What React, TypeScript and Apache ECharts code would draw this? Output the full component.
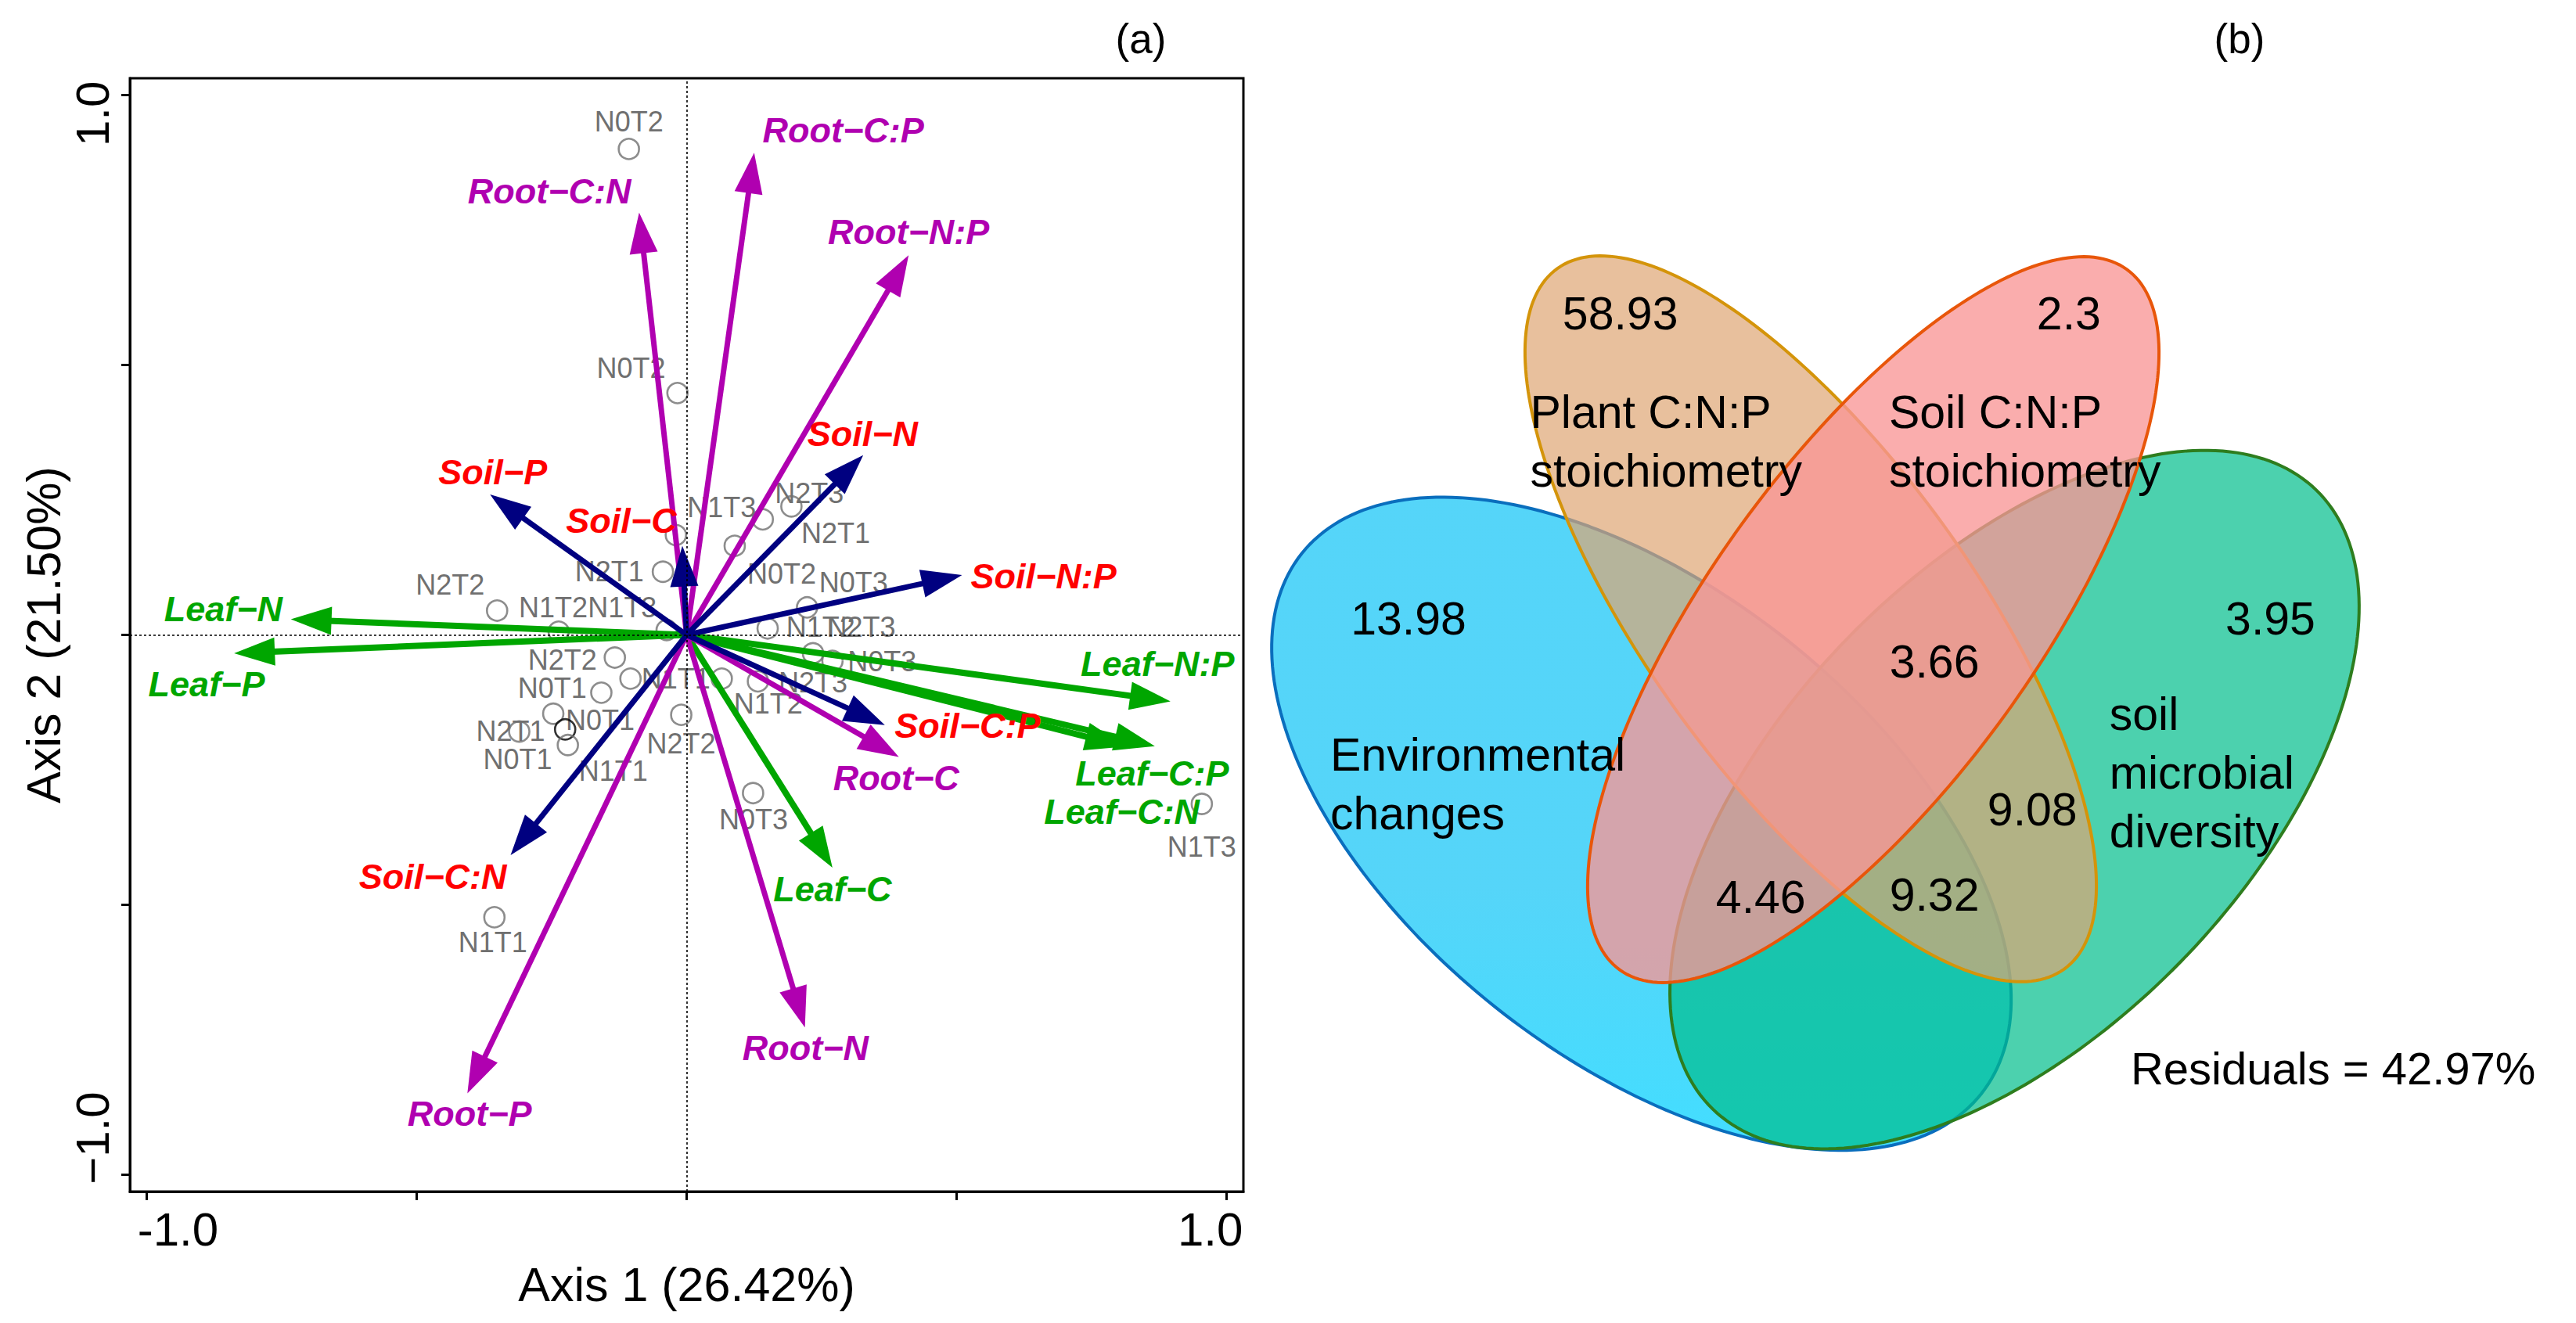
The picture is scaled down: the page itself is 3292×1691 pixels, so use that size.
import React, { useEffect, useRef } from "react";
import * as echarts from "echarts";

// ---------------- Panel (a): ordination biplot ----------------
const arrowNames = [
  "Leaf−N", "Leaf−P", "Leaf−C", "Leaf−N:P", "Leaf−C:P", "Leaf−C:N",
  "Root−C:N", "Root−C:P", "Root−N:P", "Root−C", "Root−N", "Root−P",
  "Soil−P", "Soil−C", "Soil−N", "Soil−N:P", "Soil−C:P", "Soil−C:N",
];
const arrowGroups = [
  "leaf", "leaf", "leaf", "leaf", "leaf", "leaf",
  "root", "root", "root", "root", "root", "root",
  "soil", "soil", "soil", "soil", "soil", "soil",
];
const arrowX = [-0.733, -0.838, 0.27, 0.896, 0.867, 0.813, -0.088, 0.125, 0.411, 0.393, 0.219, -0.406, -0.364, -0.008, 0.327, 0.51, 0.367, -0.326];
const arrowY = [0.029, -0.034, -0.431, -0.123, -0.206, -0.207, 0.782, 0.893, 0.703, -0.226, -0.727, -0.849, 0.26, 0.165, 0.333, 0.111, -0.167, -0.408];
const arrowLabelX = [-0.858, -0.889, 0.27, 0.872, 0.862, 0.806, -0.254, 0.29, 0.411, 0.388, 0.22, -0.402, -0.359, -0.121, 0.326, 0.661, 0.52, -0.47];
const arrowLabelY = [0.048, -0.091, -0.471, -0.053, -0.257, -0.327, 0.821, 0.935, 0.746, -0.265, -0.765, -0.887, 0.301, 0.212, 0.372, 0.109, -0.168, -0.448];

const sampleNames = [
  "N0T2", "N0T2", "N1T3", "N2T1", "N0T2", "N2T1", "N2T3", "N0T3", "N1T2",
  "N2T3", "N0T3", "N2T3", "N1T2", "N1T1", "N2T2", "N1T3", "N1T2", "N2T2",
  "N0T1", "N0T1", "N1T1", "N0T1", "N2T1", "N2T2", "N0T3", "N1T3", "N1T1",
];
const sampleX = [-0.107, -0.017, -0.02, -0.044, 0.089, 0.141, 0.194, 0.223, 0.15, 0.234, 0.27, 0.132, 0.065, -0.104, -0.133, -0.037, -0.237, -0.351, -0.158, -0.247, -0.225, -0.22, -0.31, -0.01, 0.123, 0.954, -0.356];
const sampleY = [0.9, 0.448, 0.185, 0.117, 0.165, 0.214, 0.238, 0.051, 0.012, -0.034, -0.048, -0.086, -0.081, -0.081, -0.042, 0.009, 0.006, 0.045, -0.107, -0.146, -0.175, -0.204, -0.179, -0.148, -0.293, -0.313, -0.523];
const sampleLabelX = [-0.107, -0.103, 0.065, -0.143, 0.176, 0.276, 0.227, 0.309, 0.248, 0.323, 0.362, 0.234, 0.151, -0.02, -0.23, -0.119, -0.247, -0.438, -0.249, -0.16, -0.136, -0.313, -0.326, -0.01, 0.124, 0.954, -0.359];
const sampleLabelY = [0.951, 0.494, 0.236, 0.117, 0.113, 0.189, 0.262, 0.097, 0.014, 0.014, -0.049, -0.089, -0.128, -0.081, -0.047, 0.05, 0.05, 0.093, -0.098, -0.158, -0.252, -0.23, -0.178, -0.201, -0.342, -0.392, -0.569];
const blackSampleIndex = 20;

const axisTickValues = [-1, -0.5, 0, 0.5, 1];
const axisLabelValues = [-1, 1];
const axis1Title = "Axis 1 (26.42%)";
const axis2Title = "Axis 2 (21.50%)";

// ---------------- Panel (b): variation partitioning Venn ----------------
const vennSetNames = ["Environmental\nchanges", "soil\nmicrobial\ndiversity", "Plant C:N:P\nstoichiometry", "Soil C:N:P\nstoichiometry"];
const vennCenterX = [0.3888, 0.7613, 0.5578, 0.6203];
const vennCenterY = [0.3962, 0.4203, 0.6008, 0.6];
const vennSemiMajor = [0.4334, 0.4316, 0.4317, 0.4317];
const vennSemiMinor = [0.2341, 0.2318, 0.1623, 0.1623];
const vennAngle = [-38.5, 45.7, -54.1, 54.1];
const vennSetLabelX = [0.0781, 0.8561, 0.2777, 0.6359];
const vennSetLabelY = [0.4352, 0.4465, 0.7777, 0.7777];

const vennValues = ["13.98", "3.95", "58.93", "2.3", "3.66", "9.08", "4.46", "9.32"];
const vennValueX = [0.1563, 1.0168, 0.3677, 0.8155, 0.6813, 0.7791, 0.508, 0.6813];
const vennValueY = [0.6009, 0.6009, 0.9052, 0.9052, 0.5582, 0.4105, 0.3228, 0.3252];
const residualLabel = "Residuals = 42.97%";
const residualX = 0.8773;
const residualY = 0.1523;

const FONT = '"Liberation Sans", Arial, Helvetica, sans-serif';
const lineColors: Record<string, string> = { leaf: "#00A600", root: "#B000B0", soil: "#000080" };
const labelColors: Record<string, string> = { leaf: "#00A600", root: "#B000B0", soil: "#FF0000" };
const vennStroke = ["#0A6EBD", "#2E7D1E", "#D4940A", "#E8560A"];

function vennFill(i: number): any {
  if (i === 0) {
    return new echarts.graphic.LinearGradient(0, 0, 0, 1, [
      { offset: 0, color: "rgba(12,195,246,0.7)" },
      { offset: 0.6, color: "rgba(12,195,246,0.7)" },
      { offset: 1, color: "rgba(0,210,255,0.74)" },
    ]);
  }
  return ["", "rgba(0,190,140,0.7)", "rgba(222,165,116,0.7)", "rgba(249,150,150,0.78)"][i];
}

export default function App() {
  const ref = useRef<HTMLDivElement>(null);

  useEffect(() => {
    if (!ref.current) return;
    const chart = echarts.init(ref.current, null, { renderer: "svg" });

    const tickLabelRichX = {
      neg: { fontSize: 60, fontFamily: FONT, color: "#000", padding: [0, 0, 0, 80] },
      pos: { fontSize: 60, fontFamily: FONT, color: "#000", padding: [0, 42, 0, 0] },
    };
    const tickLabelRichY = {
      neg: { fontSize: 60, fontFamily: FONT, color: "#000", padding: [0, 0, 0, 94] },
      pos: { fontSize: 60, fontFamily: FONT, color: "#000", padding: [0, 48, 0, 0] },
    };

    const option: any = {
      animation: false,
      backgroundColor: "#ffffff",
      grid: [
        { left: 166, top: 100, width: 1423, height: 1423, show: true, borderColor: "#000", borderWidth: 3, backgroundColor: "transparent" },
        { left: 1600, top: 280, width: 1600, height: 1280, show: false },
      ],
      xAxis: [
        {
          type: "value", gridIndex: 0, min: -1.031, max: 1.031, position: "bottom",
          axisLine: { show: true, onZero: false, lineStyle: { color: "#000", width: 3 } },
          axisTick: { show: true, customValues: axisTickValues, length: 11, inside: false, lineStyle: { color: "#000", width: 3 } },
          axisLabel: {
            show: true, customValues: axisLabelValues, margin: 18,
            formatter: (v: number) => (v < 0 ? "{neg|-" + Math.abs(v).toFixed(1) + "}" : "{pos|" + v.toFixed(1) + "}"),
            rich: tickLabelRichX,
          },
          splitLine: { show: false },
          name: axis1Title, nameLocation: "middle", nameGap: 88,
          nameTextStyle: { fontSize: 61, fontFamily: FONT, color: "#000" },
        },
        { type: "value", gridIndex: 1, min: 0, max: 1.25, show: false },
      ],
      yAxis: [
        {
          type: "value", gridIndex: 0, min: -1.031, max: 1.031, position: "left",
          axisLine: { show: true, onZero: false, lineStyle: { color: "#000", width: 3 } },
          axisTick: { show: true, customValues: axisTickValues, length: 11, inside: false, lineStyle: { color: "#000", width: 3 } },
          axisLabel: {
            show: true, customValues: axisLabelValues, margin: 18, rotate: 90,
            formatter: (v: number) => (v < 0 ? "{neg|−" + Math.abs(v).toFixed(1) + "}" : "{pos|" + v.toFixed(1) + "}"),
            rich: tickLabelRichY,
          },
          splitLine: { show: false },
          name: axis2Title, nameLocation: "middle", nameGap: 80,
          nameTextStyle: { fontSize: 61, fontFamily: FONT, color: "#000" },
        },
        { type: "value", gridIndex: 1, min: 0, max: 1, show: false },
      ],
      graphic: [
        { type: "text", x: 1458, y: 49, style: { text: "(a)", fontSize: 53, fontFamily: FONT, fill: "#000", align: "center", verticalAlign: "middle" } },
        { type: "text", x: 2862, y: 49, style: { text: "(b)", fontSize: 53, fontFamily: FONT, fill: "#000", align: "center", verticalAlign: "middle" } },
      ],
      series: [
        // sample points (with dotted zero reference lines)
        {
          type: "scatter", xAxisIndex: 0, yAxisIndex: 0, z: 2,
          symbol: "circle", symbolSize: 26,
          itemStyle: { color: "transparent", borderColor: "#707070", borderWidth: 2.6 },
          data: sampleX.map((x, i) =>
            i === blackSampleIndex
              ? { value: [x, sampleY[i]], itemStyle: { color: "transparent", borderColor: "#000", borderWidth: 2.6 } }
              : [x, sampleY[i]]
          ),
          markLine: {
            silent: true, symbol: ["none", "none"], label: { show: false },
            lineStyle: { color: "#000", type: [3, 3], width: 1.6 },
            data: [{ xAxis: 0 }, { yAxis: 0 }],
          },
        },
        // sample labels
        {
          type: "custom", xAxisIndex: 0, yAxisIndex: 0, z: 2,
          data: sampleLabelX.map((x, i) => [x, sampleLabelY[i], i]),
          renderItem: (params: any, api: any) => {
            const i = api.value(2);
            const p = api.coord([api.value(0), api.value(1)]);
            return {
              type: "text", x: p[0], y: p[1],
              style: { text: sampleNames[i], fontSize: 36, fontFamily: FONT, fill: "#707070", align: "center", verticalAlign: "middle" },
            };
          },
        },
        // arrows
        {
          type: "custom", xAxisIndex: 0, yAxisIndex: 0, z: 3,
          data: arrowX.map((x, i) => [x, arrowY[i], i]),
          renderItem: (params: any, api: any) => {
            const i = api.value(2);
            const color = lineColors[arrowGroups[i]];
            const p0 = api.coord([0, 0]);
            const p1 = api.coord([api.value(0), api.value(1)]);
            const dx = p1[0] - p0[0];
            const dy = p1[1] - p0[1];
            const len = Math.hypot(dx, dy) || 1;
            const ux = dx / len;
            const uy = dy / len;
            const headLen = 52;
            const headHalf = 18;
            const bx = p1[0] - ux * headLen;
            const by = p1[1] - uy * headLen;
            return {
              type: "group",
              children: [
                { type: "line", shape: { x1: p0[0], y1: p0[1], x2: bx + ux * 4, y2: by + uy * 4 }, style: { stroke: color, lineWidth: arrowGroups[i] === "leaf" ? 8 : 7 } },
                { type: "polygon", shape: { points: [[p1[0], p1[1]], [bx - uy * headHalf, by + ux * headHalf], [bx + uy * headHalf, by - ux * headHalf]] }, style: { fill: color } },
              ],
            };
          },
        },
        // arrow labels
        {
          type: "custom", xAxisIndex: 0, yAxisIndex: 0, z: 4,
          data: arrowLabelX.map((x, i) => [x, arrowLabelY[i], i]),
          renderItem: (params: any, api: any) => {
            const i = api.value(2);
            const p = api.coord([api.value(0), api.value(1)]);
            return {
              type: "text", x: p[0], y: p[1],
              style: {
                text: arrowNames[i], fontSize: 45, fontFamily: FONT, fontWeight: "bold", fontStyle: "italic",
                fill: labelColors[arrowGroups[i]], align: "center", verticalAlign: "middle",
              },
            };
          },
        },
        // Venn ellipses
        {
          type: "custom", xAxisIndex: 1, yAxisIndex: 1, z: 1,
          data: vennCenterX.map((x, i) => [x, vennCenterY[i], i]),
          renderItem: (params: any, api: any) => {
            const i = api.value(2);
            const cx = api.value(0);
            const cy = api.value(1);
            const a = vennSemiMajor[i];
            const b = vennSemiMinor[i];
            const th = (vennAngle[i] * Math.PI) / 180;
            const pts: number[][] = [];
            const n = 240;
            for (let k = 0; k < n; k++) {
              const t = (2 * Math.PI * k) / n;
              const ex = a * Math.cos(t);
              const ey = b * Math.sin(t);
              pts.push(api.coord([cx + ex * Math.cos(th) - ey * Math.sin(th), cy + ex * Math.sin(th) + ey * Math.cos(th)]));
            }
            return { type: "polygon", shape: { points: pts }, style: { fill: vennFill(i), stroke: vennStroke[i], lineWidth: 4 } };
          },
        },
        // Venn set names
        {
          type: "custom", xAxisIndex: 1, yAxisIndex: 1, z: 5,
          data: vennSetLabelX.map((x, i) => [x, vennSetLabelY[i], i]),
          renderItem: (params: any, api: any) => {
            const i = api.value(2);
            const p = api.coord([api.value(0), api.value(1)]);
            return {
              type: "text", x: p[0], y: p[1],
              style: { text: vennSetNames[i], fontSize: 59, fontFamily: FONT, fill: "#000", align: "left", verticalAlign: "middle", lineHeight: 75 },
            };
          },
        },
        // Venn values
        {
          type: "custom", xAxisIndex: 1, yAxisIndex: 1, z: 5,
          data: vennValueX.map((x, i) => [x, vennValueY[i], i]),
          renderItem: (params: any, api: any) => {
            const i = api.value(2);
            const p = api.coord([api.value(0), api.value(1)]);
            return {
              type: "text", x: p[0], y: p[1],
              style: { text: vennValues[i], fontSize: 59, fontFamily: FONT, fill: "#000", align: "center", verticalAlign: "middle" },
            };
          },
        },
        // residuals
        {
          type: "custom", xAxisIndex: 1, yAxisIndex: 1, z: 5,
          data: [[residualX, residualY]],
          renderItem: (params: any, api: any) => {
            const p = api.coord([api.value(0), api.value(1)]);
            return {
              type: "text", x: p[0], y: p[1],
              style: { text: residualLabel, fontSize: 58, fontFamily: FONT, fill: "#000", align: "left", verticalAlign: "middle" },
            };
          },
        },
      ],
    };

    chart.setOption(option);
    const onResize = () => chart.resize();
    window.addEventListener("resize", onResize);
    return () => {
      window.removeEventListener("resize", onResize);
      chart.dispose();
    };
  }, []);

  return (
    <div
      ref={ref}
      style={{ position: "fixed", left: 0, top: 0, width: "100vw", height: "100vh", background: "#fff" }}
    />
  );
}
